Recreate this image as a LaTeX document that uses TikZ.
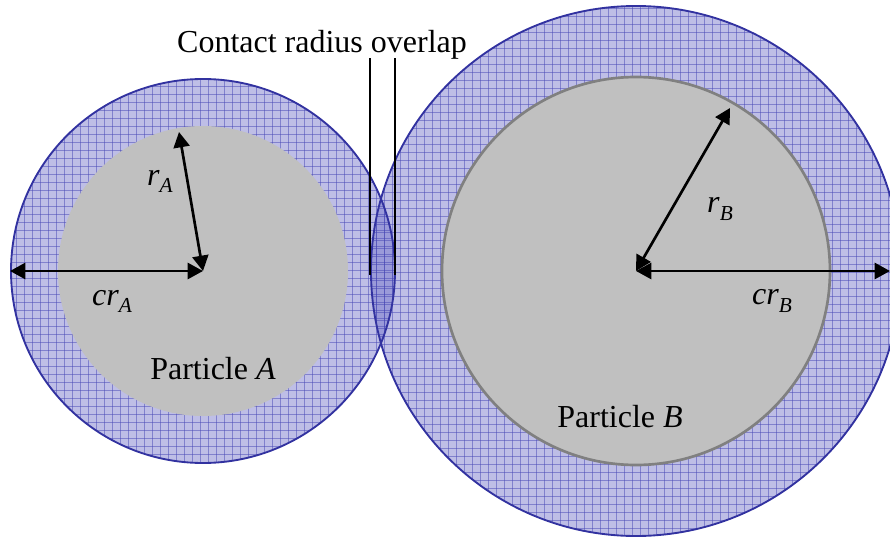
\documentclass[tikz,border=0pt]{standalone}
\usepackage{fontspec}
\setmainfont{Liberation Serif}
\usetikzlibrary{arrows.meta}
\definecolor{ringfill}{RGB}{110,110,200}
\definecolor{ringline}{RGB}{50,50,160}
\definecolor{gridc}{RGB}{70,70,180}
\definecolor{core}{RGB}{192,192,192}
\definecolor{coreline}{RGB}{128,128,128}
\newcommand{\sym}[2]{\textit{#1}\raisebox{-0.22em}{\fontsize{16}{18}\selectfont\textit{#2}}}
\tikzset{
  lab/.style={font=\fontsize{24}{28}\selectfont, inner sep=0pt},
  dim/.style={line width=2pt, {Triangle[length=11.5pt,width=12pt]}-{Triangle[length=11.5pt,width=12pt]}},
  ring/.style={fill=ringfill, fill opacity=0.45},
  ringedge/.style={draw=ringline, line width=1.4pt},
  gridl/.style={draw=gridc, line width=0.45pt, opacity=0.5},
  marker/.style={draw=black, line width=1.4pt}
}
\begin{document}
\begin{tikzpicture}[x=0.75pt,y=-0.75pt]
\useasboundingbox (0,0) rectangle (890,539);
\begin{scope}
\clip (0,0) rectangle (890,539);
% centres
\coordinate (ca) at (203,271);
\coordinate (cb) at (636,271);
% outer rings
\fill[ring] (ca) circle (192);
\fill[ring] (cb) circle (265);
\begin{scope}
\clip (ca) circle (192);
\foreach \i in {0,8,...,400} {
  \draw[gridl] (\i,70) -- (\i,470);
  \draw[gridl] (0,70+\i) -- (400,70+\i);
}
\end{scope}
\begin{scope}
\clip (cb) circle (265);
\foreach \i in {368,376,...,904} {
  \draw[gridl] (\i,0) -- (\i,539);
}
\foreach \i in {0,8,...,539} {
  \draw[gridl] (368,\i) -- (904,\i);
}
\end{scope}
\draw[ringedge] (ca) circle (192);
\draw[ringedge] (cb) circle (265);
% cores
\fill[core] (ca) circle (145);
\filldraw[fill=core, draw=coreline, line width=2pt] (cb) circle (194);
% radii
\coordinate (ra) at (179,132);
\coordinate (cra) at (10,271);
\coordinate (rb) at (730,108);
\coordinate (crb) at (890,271);
\draw[dim] (ca) -- (ra);
\draw[dim] (ca) -- (cra);
\draw[dim] (cb) -- (rb);
\draw[dim] (cb) -- (crb);
% contact overlap markers
\coordinate (m1t) at (370,58);
\coordinate (m1b) at (370,275);
\coordinate (m2t) at (395,58);
\coordinate (m2b) at (395,275);
\draw[marker] (m1t) -- (m1b);
\draw[marker] (m2t) -- (m2b);
\end{scope}
% labels
\node[lab] (tra) at (160,181) {\sym{r}{A}};
\node[lab] (tcra) at (112,301) {\sym{cr}{A}};
\node[lab] (trb) at (720,209) {\sym{r}{B}};
\node[lab] (tcrb) at (772,301) {\sym{cr}{B}};
\node[lab] (pa) at (213,369) {Particle \textit{A}};
\node[lab] (pb) at (620,417) {Particle \textit{B}};
\node[lab, anchor=base] (co) at (322,52) {Contact radius overlap};
\end{tikzpicture}
\end{document}
